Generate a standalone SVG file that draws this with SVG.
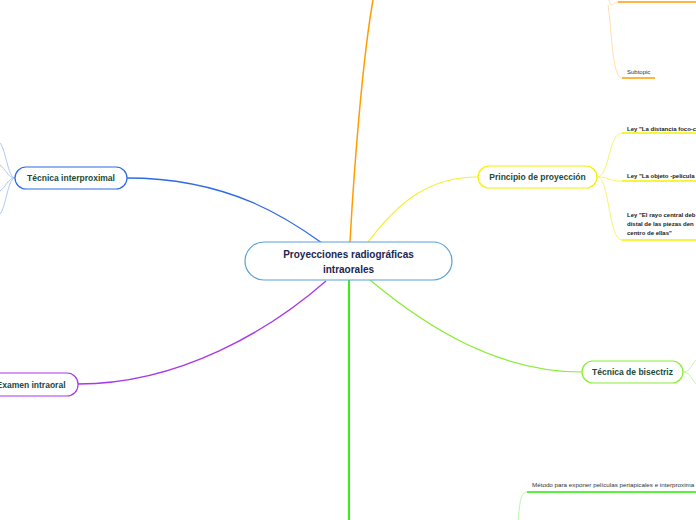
<svg xmlns="http://www.w3.org/2000/svg" width="696" height="520" viewBox="0 0 696 520">
<style>
.lbl{font-family:"Liberation Sans",Arial,sans-serif;font-weight:bold;font-size:8.5px;fill:#1b4a3a;text-anchor:middle}
.main{font-family:"Liberation Sans",Arial,sans-serif;font-weight:bold;font-size:10px;fill:#1b2553;text-anchor:middle}
.sub{font-family:"Liberation Sans",Arial,sans-serif;font-weight:bold;font-size:6px;fill:#222}
.subn{font-family:"Liberation Sans",Arial,sans-serif;font-size:6px;fill:#333}
</style>
<rect width="696" height="520" fill="#ffffff"/>
<g id="connectors" fill="none">
  <path d="M322,243 C290,220 230,178 127,178" stroke="#2d6ae6" stroke-width="1.3"/>
  <path d="M326,281 C270,330 180,384 78,384" stroke="#a838ee" stroke-width="1.3"/>
  <path d="M350,242 C355,150 364,50 373,0" stroke="#ff9c00" stroke-width="1.5"/>
  <path d="M368,242 C400,200 430,177 478,177" stroke="#f2f230" stroke-width="1.2"/>
  <path d="M349,280 L349,520" stroke="#22ee00" stroke-width="1.8"/>
  <path d="M370,280 C430,330 500,372 582,372" stroke="#88ee33" stroke-width="1.2"/>
  <g stroke="#9db8f2" stroke-width="0.8">
    <path d="M15,178 C8,178 6,150 0,143"/>
    <path d="M15,178 C8,178 5,168 0,165"/>
    <path d="M15,178 C8,178 5,188 0,191"/>
    <path d="M15,178 C8,178 6,207 0,214"/>
  </g>
  <path d="M609,0 C612,10 612,2 618,2" stroke="#ffd59a" stroke-width="0.8"/>
  <path d="M618,2 L696,2" stroke="#ff9c00" stroke-width="1.3"/>
  <path d="M608,5 C612,30 612,78 622,78" stroke="#ffd59a" stroke-width="0.8"/>
  <path d="M622,78 L655,78" stroke="#ff9c00" stroke-width="1.3"/>
  <g stroke="#f2f24a" stroke-width="0.8">
    <path d="M597,177 C610,177 608,133 622,133"/>
    <path d="M597,177 C610,177 608,181 622,181"/>
    <path d="M597,177 C610,177 608,240 622,240"/>
  </g>
  <g stroke="#f2f200" stroke-width="1.3">
    <path d="M622,133 L696,133"/>
    <path d="M622,181 L696,181"/>
    <path d="M622,240 L696,240"/>
  </g>
  <g stroke="#b8f290" stroke-width="0.8">
    <path d="M683,372 C690,372 692,364 696,360"/>
    <path d="M683,372 C690,372 692,380 696,384"/>
  </g>
  <path d="M527,492 C520,492 520,505 518,520" stroke="#a8f590" stroke-width="0.8"/>
  <path d="M527,492 L696,492" stroke="#22ee00" stroke-width="1.3"/>
</g>
<g id="central">
  <rect x="245" y="242" width="207" height="38" rx="19" fill="#ffffff" stroke="#5a9fd8" stroke-width="1.2"/>
  <text class="main" x="348.5" y="258">Proyecciones radiográficas</text>
  <text class="main" x="348.5" y="273">intraorales</text>
</g>
<g id="tecnica-interproximal">
  <rect x="15" y="167" width="112" height="22" rx="11" fill="#ffffff" stroke="#2d6ae6" stroke-width="1.2"/>
  <text class="lbl" x="71" y="181">Técnica interproximal</text>
</g>
<g id="examen-intraoral">
  <rect x="-30" y="373" width="108" height="23" rx="11" fill="#ffffff" stroke="#a838ee" stroke-width="1.2"/>
  <text class="lbl" x="31" y="387.5">Examen intraoral</text>
</g>
<g id="principio-proyeccion">
  <rect x="478" y="166" width="119" height="22" rx="11" fill="#ffffff" stroke="#f2f200" stroke-width="1.2"/>
  <text class="lbl" x="537.5" y="180">Principio de proyección</text>
</g>
<g id="tecnica-bisectriz">
  <rect x="582" y="361" width="101" height="22" rx="11" fill="#ffffff" stroke="#88ee33" stroke-width="1.2"/>
  <text class="lbl" x="632.5" y="375">Técnica de bisectriz</text>
</g>
<g id="subtopic">
  <text class="subn" x="627" y="74">Subtopic</text>
</g>
<g id="ley-distancia">
  <text class="sub" x="627" y="131">Ley "La distancia foco-c</text>
</g>
<g id="ley-objeto">
  <text class="sub" x="627" y="178">Ley "La objeto -película</text>
</g>
<g id="ley-rayo">
  <text class="sub" x="627" y="217">Ley "El rayo central deb</text>
  <text class="sub" x="627" y="226">distal de las piezas den</text>
  <text class="sub" x="627" y="235">centro de ellas"</text>
</g>
<g id="metodo">
  <text class="subn" x="532" y="487" style="font-size:6.25px">Método para exponer películas periapicales e interproxima</text>
</g>
</svg>
